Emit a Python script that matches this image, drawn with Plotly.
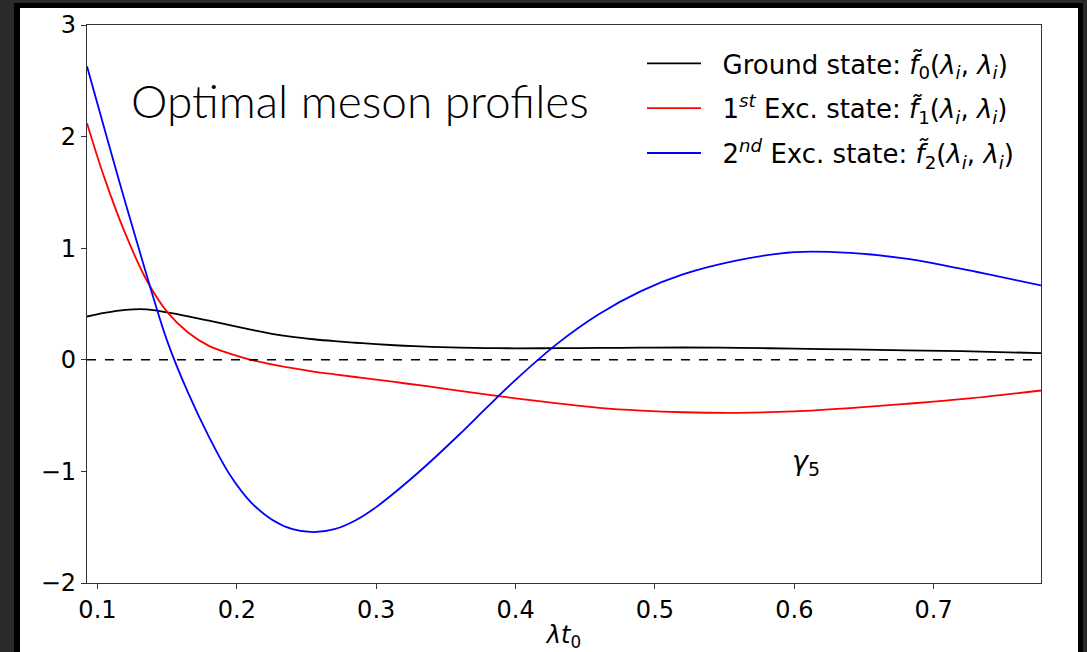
import plotly.graph_objects as go

# ---- data ----
lam_t0 = [0.0925, 0.105, 0.12, 0.135, 0.15, 0.165, 0.18, 0.195, 0.21, 0.225, 0.24, 0.255,
          0.27, 0.285, 0.30, 0.32, 0.34, 0.36, 0.38, 0.40, 0.43, 0.46, 0.49, 0.52, 0.56,
          0.60, 0.64, 0.68, 0.72, 0.777]
ground = [0.388, 0.42, 0.447, 0.452, 0.425, 0.39, 0.35, 0.31, 0.27, 0.233, 0.205, 0.184,
          0.167, 0.153, 0.14, 0.126, 0.116, 0.109, 0.105, 0.103, 0.104, 0.106, 0.109, 0.11, 0.107,
          0.10, 0.093, 0.085, 0.077, 0.06]
exc1 = [2.12, 1.63, 1.13, 0.72, 0.43, 0.245, 0.125, 0.055, 0.0, -0.04, -0.075, -0.105,
        -0.13, -0.154, -0.177, -0.21, -0.243, -0.278, -0.312, -0.345, -0.39, -0.43, -0.455, -0.47, -0.475,
        -0.462, -0.433, -0.395, -0.353, -0.275]
exc2 = [2.63, 2.07, 1.41, 0.77, 0.17, -0.295, -0.69, -1.03, -1.275, -1.43, -1.518, -1.545,
        -1.518, -1.44, -1.32, -1.12, -0.90, -0.665, -0.42, -0.18, 0.145, 0.41, 0.615, 0.765, 0.893,
        0.965, 0.958, 0.907, 0.815, 0.666]

series_names = [
    "\u00a0\u00a0Ground state: <i>f\u0303</i><sub>0</sub>(<i>\u03bb<sub>i</sub></i>, <i>\u03bb<sub>i</sub></i>)",
    "\u00a0\u00a01<sup><i>st</i></sup> Exc. state: <i>f\u0303</i><sub>1</sub>(<i>\u03bb<sub>i</sub></i>, <i>\u03bb<sub>i</sub></i>)",
    "\u00a0\u00a02<sup><i>nd</i></sup> Exc. state: <i>f\u0303</i><sub>2</sub>(<i>\u03bb<sub>i</sub></i>, <i>\u03bb<sub>i</sub></i>)",
]
series_colors = ["#000000", "#ff0000", "#0000ff"]
x_ticks = [0.1, 0.2, 0.3, 0.4, 0.5, 0.6, 0.7]
y_ticks = [-2, -1, 0, 1, 2, 3]

# ---- layout geometry ----
W, H = 1087, 652
L, R, T, B = 87, 46, 25, 69
pw, ph = W - L - R, H - T - B


def px_x(px):
    return (px - L) / pw


def px_y(py):
    return (H - B - py) / ph


fig = go.Figure()
for i, (ys, name, col) in enumerate(zip([ground, exc1, exc2], series_names, series_colors)):
    fig.add_trace(go.Scatter(
        x=lam_t0, y=ys, mode="lines", name=name,
        line=dict(color=col, width=1.8, shape="spline", smoothing=1.0),
        legendgroup=f"g{i}",
    ))

FONT = "DejaVu Sans"
shapes = [
    # black frame and white panel
    dict(type="rect", xref="paper", yref="paper", x0=px_x(14), x1=px_x(1083),
         y0=px_y(660), y1=px_y(3), fillcolor="#000000", line_width=0, layer="below"),
    dict(type="rect", xref="paper", yref="paper", x0=px_x(20), x1=px_x(1078),
         y0=px_y(660), y1=px_y(8), fillcolor="#ffffff", line_width=0, layer="below"),
    # zero line
    dict(type="line", xref="paper", yref="y", x0=0, x1=1, y0=0, y1=0,
         line=dict(color="#000000", width=1.5, dash="dash")),
]

fig.update_layout(
    width=W, height=H,
    margin=dict(l=L, r=R, t=T, b=B, pad=0, autoexpand=False),
    paper_bgcolor="#2a2a2a",
    plot_bgcolor="#ffffff",
    shapes=shapes,
    showlegend=True,
    legend=dict(
        x=px_x(642), y=px_y(40), xanchor="left", yanchor="top",
        bgcolor="rgba(0,0,0,0)", borderwidth=0,
        font=dict(family=FONT, size=26, color="#000000"),
        itemwidth=54, tracegroupgap=8,
    ),
    annotations=[
        dict(text="Optimal meson profiles", xref="paper", yref="paper",
             x=px_x(360), y=px_y(100), xanchor="center", yanchor="middle",
             showarrow=False, font=dict(family="Lato", size=46, color="#000000", weight=300)),
        dict(text="<i>\u03b3</i><sub>5</sub>", xref="x", yref="y",
             x=0.6085, y=-0.92, xanchor="center", yanchor="middle",
             showarrow=False, font=dict(family=FONT, size=27, color="#000000")),
    ],
)

fig.update_xaxes(
    range=[0.0925, 0.777], tickvals=x_ticks, ticktext=[f"{v:.1f}" for v in x_ticks],
    showgrid=False, zeroline=False, automargin=False,
    showline=True, linecolor="#333333", linewidth=1.3, mirror=True,
    ticks="outside", ticklen=5, tickwidth=1.2, tickcolor="#333333",
    tickfont=dict(family=FONT, size=24, color="#000000"),
    title=dict(text="<i>\u03bbt</i><sub>0</sub>", standoff=6,
               font=dict(family=FONT, size=24, color="#000000")),
)
fig.update_yaxes(
    range=[-2, 3], tickvals=y_ticks, ticktext=[("\u2212" + str(-v)) if v < 0 else str(v) for v in y_ticks],
    showgrid=False, zeroline=False, automargin=False,
    showline=True, linecolor="#333333", linewidth=1.3, mirror=True,
    ticks="outside", ticklen=5, tickwidth=1.2, tickcolor="#333333",
    tickfont=dict(family=FONT, size=24, color="#000000"),
)

fig.write_html(
    "out.html",
    config={"displayModeBar": False},
    post_script="document.body.style.margin='0';document.body.style.background='#2a2a2a';",
)
